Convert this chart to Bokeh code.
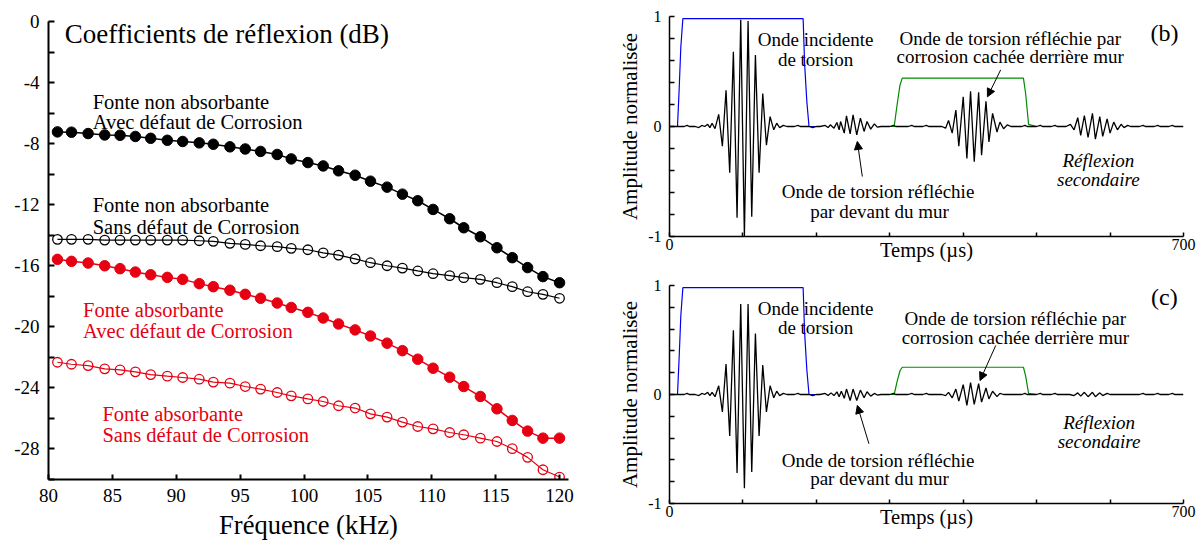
from bokeh.plotting import figure
from bokeh.layouts import row, column
from bokeh.models import FixedTicker, Label, Arrow, NormalHead, Range1d
from bokeh.embed import file_html
from bokeh.resources import INLINE

# ---------------- data: reflection coefficients (dB) ----------------
freq = [80.7, 81.8, 83.1, 84.4, 85.6, 86.8, 88.0, 89.3, 90.5, 91.8, 92.9, 94.2, 95.4,
        96.6, 97.9, 99.0, 100.3, 101.5, 102.7, 104.0, 105.2, 106.5, 107.7, 108.9,
        110.1, 111.4, 112.5, 113.8, 115.1, 116.3, 117.5, 118.7, 120.0]
non_abs_avec = [-7.23, -7.25, -7.34, -7.43, -7.45, -7.53, -7.65, -7.78, -7.86, -7.95, -8.04,
                -8.21, -8.35, -8.51, -8.71, -9.0, -9.24, -9.46, -9.78, -10.07, -10.46, -10.85,
                -11.31, -11.74, -12.31, -12.92, -13.51, -14.1, -14.82, -15.47, -16.12, -16.71, -17.11]
non_abs_sans = [-14.27, -14.27, -14.27, -14.32, -14.32, -14.32, -14.32, -14.32, -14.32, -14.36,
                -14.40, -14.53, -14.60, -14.69, -14.75, -14.86, -14.95, -15.15, -15.30, -15.55,
                -15.80, -16.00, -16.15, -16.34, -16.52, -16.65, -16.78, -16.89, -17.11, -17.37,
                -17.70, -17.87, -18.13]
abs_avec = [-15.58, -15.71, -15.82, -16.0, -16.19, -16.41, -16.59, -16.76, -16.89, -17.17, -17.37,
            -17.6, -17.87, -18.13, -18.44, -18.73, -19.05, -19.42, -19.81, -20.2, -20.6, -21.07,
            -21.56, -22.12, -22.71, -23.3, -23.91, -24.56, -25.37, -26.13, -26.83, -27.29, -27.29]
abs_sans = [-22.32, -22.45, -22.54, -22.75, -22.82, -22.95, -23.13, -23.23, -23.32, -23.43, -23.62,
            -23.69, -23.91, -24.08, -24.3, -24.52, -24.72, -24.89, -25.17, -25.32, -25.7, -25.91,
            -26.24, -26.53, -26.68, -26.92, -27.07, -27.29, -27.51, -27.98, -28.55, -29.36, -29.84]

x_ticks_left = [80, 85, 90, 95, 100, 105, 110, 115, 120]
y_ticks_left = [-28, -24, -20, -16, -12, -8, -4, 0]
y_labels_left = ["-28", "-24", "-20", "-16", "-12", "-8", "-4", "0"]
y_minor_left = [-30, -26, -22, -18, -14, -10, -6, -2]

# ---------------- data: time signals ----------------
# window (gate) curves
blue_t = [0, 10.9, 13.1, 15.4, 18.2, 182, 184, 187, 190, 200]
blue_a = [0, 0, 0.33, 0.72, 0.98, 0.98, 0.57, 0.23, 0, 0]
green_t = [300, 306, 310, 314, 317, 482, 485, 489, 500]
green_b = [0, 0, 0.2, 0.38, 0.44, 0.44, 0.3, 0.02, 0]
green_c = [0, 0, 0.12, 0.22, 0.25, 0.25, 0.17, 0.01, 0]

# panel (b) black signal, by segment (time us, amplitude)
b_pre_t = [0, 20, 24, 27, 35, 40, 44, 48, 52, 55, 58, 62]
b_pre_a = [0, 0, 0.01, 0, 0, -0.01, 0.01, 0, 0.02, -0.01, 0.03, -0.02]
b_inc_t = [67, 72, 77, 82, 87, 92, 97, 102, 107, 112, 117, 122, 127, 132, 137, 142, 146, 150, 155, 160]
b_inc_a = [0.11, -0.18, 0.33, -0.42, 0.68, -0.83, 0.97, -1.0, 0.96, -0.82, 0.65, -0.42, 0.30, -0.17,
           0.09, -0.03, 0.03, -0.01, 0.01, 0]
b_gap1_t = [170, 175, 178, 190, 195, 200]
b_gap1_a = [0, 0.01, 0, 0, -0.01, 0]
b_wall_t = [205, 212, 216, 219, 224, 228, 231, 233, 238, 241, 246, 250, 255, 260, 265, 269, 274, 279, 283, 288]
b_wall_a = [0, 0.01, -0.01, 0.015, -0.015, 0.036, -0.03, 0.045, -0.06, 0.097, -0.067, 0.106, -0.076,
            0.076, -0.045, 0.045, -0.024, 0.024, -0.006, 0]
b_gap2_t = [300, 305, 308, 325, 330, 333, 345, 350, 353, 362]
b_gap2_a = [0, 0.01, 0, 0, 0.01, 0, 0, 0.01, 0, 0]
b_corr_t = [371, 376, 380, 385, 390, 394, 400, 405, 410, 415, 421, 425, 431, 435, 440, 446, 450, 455, 460, 465]
b_corr_a = [0, -0.015, 0.055, -0.06, 0.15, -0.18, 0.27, -0.29, 0.32, -0.32, 0.31, -0.26, 0.23,
            -0.14, 0.12, -0.05, 0.04, -0.02, 0.015, 0]
b_gap3_t = [480, 484, 487, 500, 505, 508, 520, 525, 528, 535]
b_gap3_a = [0, 0.01, 0, 0, 0.01, 0, 0, 0.01, 0, 0]
b_sec_t = [540, 546, 551, 556, 560, 565, 570, 576, 580, 586, 590, 596, 600, 605, 610, 615, 619, 624, 628]
b_sec_a = [0, 0.02, -0.03, 0.08, -0.08, 0.10, -0.10, 0.12, -0.115, 0.09, -0.09, 0.07, -0.06, 0.04,
           -0.03, 0.02, -0.01, 0.01, 0]
b_post_t = [640, 645, 648, 660, 665, 668, 680, 685, 688, 700]
b_post_a = [0, 0.01, 0, 0, 0.01, 0, 0, 0.01, 0, 0]

# panel (c) black signal
c_pre_t = [0, 20, 24, 27, 35, 40, 44, 48, 52, 55, 58, 62]
c_pre_a = [0, 0, 0.01, 0, 0, -0.01, 0.01, 0, 0.02, -0.01, 0.02, -0.02]
c_inc_t = [67, 72, 77, 82, 87, 92, 97, 102, 107, 112, 117, 122, 127, 132, 137, 142, 146, 150, 155, 160]
c_inc_a = [0.08, -0.16, 0.28, -0.38, 0.59, -0.72, 0.83, -0.86, 0.83, -0.71, 0.56, -0.38, 0.27, -0.16,
           0.08, -0.03, 0.03, -0.01, 0.01, 0]
c_gap1_t = [170, 175, 178, 190, 195, 200]
c_gap1_a = [0, 0.01, 0, 0, -0.01, 0]
c_wall_t = [205, 212, 216, 220, 224, 228, 231, 234, 238, 241, 246, 250, 255, 260, 265, 269, 274, 279, 283, 288]
c_wall_a = [0, 0.01, -0.01, 0.015, -0.01, 0.025, -0.02, 0.03, -0.035, 0.05, -0.055, 0.05, -0.055,
            0.04, -0.03, 0.025, -0.015, 0.01, -0.005, 0]
c_gap2_t = [300, 305, 308, 325, 330, 333, 345, 350, 353, 362]
c_gap2_a = [0, 0.01, 0, 0, 0.01, 0, 0, 0.01, 0, 0]
c_corr_t = [371, 376, 380, 385, 390, 394, 400, 405, 410, 415, 421, 425, 431, 435, 440, 446, 450, 455]
c_corr_a = [0, -0.01, 0.02, -0.03, 0.05, -0.06, 0.09, -0.10, 0.11, -0.09, 0.10, -0.07, 0.06, -0.04,
            0.03, -0.02, 0.01, 0]
c_gap3_t = [480, 484, 487, 500, 505, 508, 520, 525, 528, 535]
c_gap3_a = [0, 0.01, 0, 0, 0.01, 0, 0, 0.01, 0, 0]
c_sec_t = [545, 551, 556, 560, 565, 570, 576, 580, 586, 590, 596, 600]
c_sec_a = [0, -0.01, 0.015, -0.015, 0.02, -0.02, 0.02, -0.02, 0.015, -0.01, 0.01, 0]
c_post_t = [640, 645, 648, 660, 665, 668, 680, 685, 688, 700]
c_post_a = [0, 0.01, 0, 0, 0.01, 0, 0, 0.01, 0, 0]

sig_b_t = b_pre_t + b_inc_t + b_gap1_t + b_wall_t + b_gap2_t + b_corr_t + b_gap3_t + b_sec_t + b_post_t
sig_b_a = b_pre_a + b_inc_a + b_gap1_a + b_wall_a + b_gap2_a + b_corr_a + b_gap3_a + b_sec_a + b_post_a
sig_c_t = c_pre_t + c_inc_t + c_gap1_t + c_wall_t + c_gap2_t + c_corr_t + c_gap3_t + c_sec_t + c_post_t
sig_c_a = c_pre_a + c_inc_a + c_gap1_a + c_wall_a + c_gap2_a + c_corr_a + c_gap3_a + c_sec_a + c_post_a

SERIF = "Liberation Serif"
RED = "#e60012"


def style_axes(p, lw, label_size):
    for ax in (p.xaxis[0], p.yaxis[0]):
        ax.axis_line_width = lw
        ax.axis_line_color = "black"
        ax.major_tick_line_color = "black"
        ax.minor_tick_line_color = "black"
        ax.major_tick_line_width = lw
        ax.minor_tick_line_width = lw
        ax.major_tick_out = 0
        ax.minor_tick_out = 0
        ax.major_label_text_font = SERIF
        ax.major_label_text_font_size = label_size
        ax.major_label_text_color = "black"
        ax.axis_label_text_font = SERIF
        ax.axis_label_text_font_style = "normal"
        ax.axis_label_text_color = "black"
    p.outline_line_color = None
    p.xgrid.visible = False
    p.ygrid.visible = False


# ---------------- left figure ----------------
p1 = figure(width=600, height=542, x_range=Range1d(80, 120.7), y_range=Range1d(-30, 0),
            output_backend="svg", toolbar_location=None,
            min_border_left=48, min_border_right=32, min_border_top=21, min_border_bottom=62)
style_axes(p1, 2, "19px")
p1.xaxis.ticker = FixedTicker(ticks=x_ticks_left)
p1.yaxis.ticker = FixedTicker(ticks=y_ticks_left, minor_ticks=y_minor_left)
p1.yaxis.major_label_overrides = dict(zip(y_ticks_left, y_labels_left))
p1.xaxis.major_tick_in = 5
p1.yaxis.major_tick_in = 6
p1.yaxis.minor_tick_in = 6
p1.xaxis.minor_tick_in = 0
p1.xaxis.major_label_standoff = 9
p1.yaxis.major_label_standoff = 9
p1.xaxis.axis_label = "Fréquence (kHz)"
p1.xaxis.axis_label_text_font_size = "26.5px"
p1.xaxis.axis_label_standoff = 5

p1.line(freq, non_abs_avec, line_color="black", line_width=1.5)
p1.scatter(freq, non_abs_avec, size=10.5, fill_color="black", line_color="black")
p1.line(freq, non_abs_sans, line_color="black", line_width=1.2)
p1.scatter(freq, non_abs_sans, size=9.5, fill_color=None, line_color="black", line_width=1.3)
p1.line(freq, abs_avec, line_color=RED, line_width=1.5)
p1.scatter(freq, abs_avec, size=10.5, fill_color=RED, line_color=RED)
p1.line(freq, abs_sans, line_color=RED, line_width=1.2)
p1.scatter(freq, abs_sans, size=9.5, fill_color=None, line_color=RED, line_width=1.3)

def lab(p, x, y, t, size, color="black", align="left", baseline="alphabetic", style="normal"):
    p.add_layout(Label(x=x, y=y, text=t, text_font=SERIF, text_font_size=size, text_color=color,
                       text_align=align, text_baseline=baseline, text_font_style=style))

lab(p1, 81.27, -0.8, "Coefficients de réflexion (dB)", "27px")
lab(p1, 83.46, -5.27, "Fonte non absorbante", "20.5px")
lab(p1, 83.46, -6.58, "Avec défaut de Corrosion", "20.5px")
lab(p1, 83.46, -12.03, "Fonte non absorbante", "20.5px")
lab(p1, 83.46, -13.45, "Sans défaut de Corrosion", "20.5px")
lab(p1, 82.7, -18.89, "Fonte absorbante", "20.5px", RED)
lab(p1, 82.7, -20.25, "Avec défaut de Corrosion", "20.5px", RED)
lab(p1, 84.22, -25.7, "Fonte absorbante", "20.5px", RED)
lab(p1, 84.22, -27.07, "Sans défaut de Corrosion", "20.5px", RED)


# ---------------- right figures ----------------
def signal_panel(height, top, bottom, sig_t, sig_a, green_a, letter, pos):
    p = figure(width=604, height=height, x_range=Range1d(0, 700), y_range=Range1d(-1, 1),
               output_backend="svg", toolbar_location=None,
               min_border_left=69, min_border_right=21, min_border_top=top, min_border_bottom=bottom)
    style_axes(p, 1.5, "16px")
    p.xaxis.ticker = FixedTicker(ticks=[0, 700], minor_ticks=[100, 200, 300, 400, 500, 600])
    p.yaxis.ticker = FixedTicker(ticks=[-1, 0, 1], minor_ticks=[-0.8, -0.6, -0.4, -0.2, 0.2, 0.4, 0.6, 0.8])
    p.yaxis.major_label_overrides = {-1: "-1", 0: "0", 1: "1"}
    p.xaxis.major_tick_in = 4
    p.xaxis.minor_tick_in = 4
    p.yaxis.major_tick_in = 5
    p.yaxis.minor_tick_in = 5
    p.xaxis.major_label_standoff = 2
    p.yaxis.major_label_standoff = 8
    p.yaxis.axis_label = "Amplitude normalisée"
    p.yaxis.axis_label_text_font_size = "21px"
    p.yaxis.axis_label_standoff = 3
    p.xaxis.axis_label = "Temps (µs)"
    p.xaxis.axis_label_text_font_size = "20.5px"
    p.xaxis.axis_label_standoff = pos["xlab_standoff"]

    p.line(blue_t, blue_a, line_color="#0000ee", line_width=1.2)
    p.line(green_t, green_a, line_color="#008c00", line_width=1.2)
    p.line(sig_t, sig_a, line_color="black", line_width=1.3)

    for (x, y, t, size, align, base, style) in pos["texts"]:
        lab(p, x, y, t, size, "black", align, base, style)
    lab(p, 674, pos["letter_y"], letter, "24px", "black", "center", "middle")
    for (x0, y0, x1, y1) in pos["arrows"]:
        p.add_layout(Arrow(x_start=x0, y_start=y0, x_end=x1, y_end=y1, line_width=1,
                           line_color="black",
                           end=NormalHead(size=8, fill_color="black", line_color="black")))
    return p


pos_b = {
    "texts": [
        (199, 0.788, "Onde incidente", "19px", "center", "alphabetic", "normal"),
        (199, 0.606, "de torsion", "19px", "center", "alphabetic", "normal"),
        (464, 0.803, "Onde de torsion réfléchie par", "19px", "center", "alphabetic", "normal"),
        (464, 0.636, "corrosion cachée derrière mur", "19px", "center", "alphabetic", "normal"),
        (584, -0.312, "Réflexion", "19px", "center", "alphabetic", "italic"),
        (584, -0.485, "secondaire", "19px", "center", "alphabetic", "italic"),
        (284, -0.59, "Onde de torsion réfléchie", "19px", "center", "alphabetic", "normal"),
        (286, -0.773, "par devant du mur", "19px", "center", "alphabetic", "normal"),
    ],
    "letter_y": 0.85,
    "xlab_standoff": -14,
    "arrows": [(451, 0.515, 433, 0.27), (262.6, -0.455, 255.8, -0.136)],
}
pos_c = {
    "texts": [
        (199, 0.786, "Onde incidente", "19px", "center", "alphabetic", "normal"),
        (199, 0.618, "de torsion", "19px", "center", "alphabetic", "normal"),
        (471, 0.694, "Onde de torsion réfléchie par", "19px", "center", "alphabetic", "normal"),
        (471, 0.526, "corrosion cachée derrière mur", "19px", "center", "alphabetic", "normal"),
        (585, -0.254, "Réflexion", "19px", "center", "alphabetic", "italic"),
        (585, -0.428, "secondaire", "19px", "center", "alphabetic", "italic"),
        (284, -0.606, "Onde de torsion réfléchie", "19px", "center", "alphabetic", "normal"),
        (286, -0.774, "par devant du mur", "19px", "center", "alphabetic", "normal"),
    ],
    "letter_y": 0.893,
    "xlab_standoff": -14,
    "arrows": [(444.3, 0.45, 422.9, 0.128), (271.6, -0.452, 255.8, -0.10)],
}

p2 = signal_panel(270, 16, 34, sig_b_t, sig_b_a, green_b, "(b)", pos_b)
p3 = signal_panel(272, 15, 39, sig_c_t, sig_c_a, green_c, "(c)", pos_c)

layout = row(p1, column(p2, p3, spacing=0), spacing=0)
open("out.html", "w").write(file_html(layout, INLINE, "Coefficients de réflexion"))
